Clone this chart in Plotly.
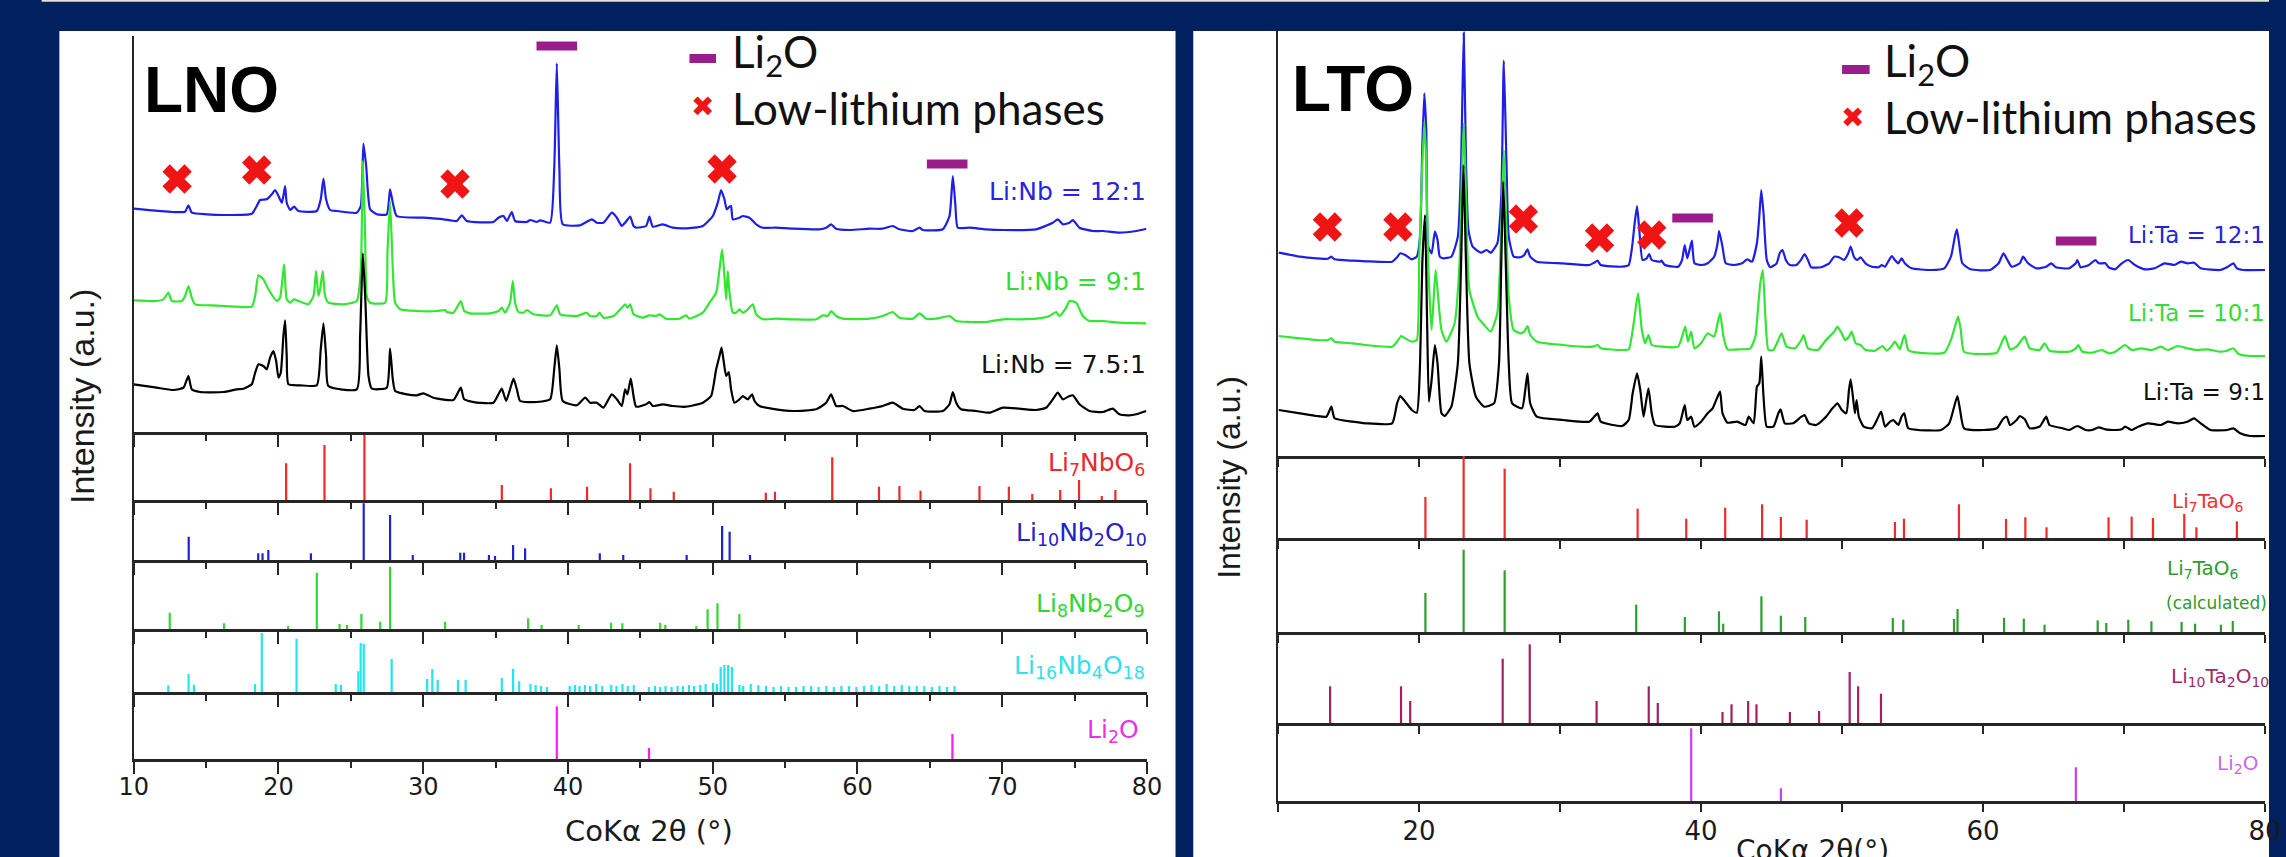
import plotly.graph_objects as go

W, H = 2286, 857

# ---------------- LEFT (LNO) measured patterns: (2theta, intensity a.u.) ----------------
lnb_12_1 = [(10.0, 27.3), (12.7, 24.0), (13.55, 24.3), (13.78, 30.7), (14.01, 23.3), (15.05, 21.7), (16.2, 21.0),
            (18.16, 22.3), (18.5, 30.0), (18.73, 36.0), (19.19, 36.7), (19.54, 41.7), (19.77, 46.0), (20.0, 40.0),
            (20.23, 33.3), (20.34, 40.0), (20.46, 50.0), (20.57, 33.3), (20.81, 26.0), (21.08, 29.3), (21.38, 25.0),
            (22.65, 25.0), (22.92, 36.7), (23.11, 57.3), (23.29, 36.7), (23.57, 26.0), (24.03, 25.0), (25.41, 23.3),
            (25.69, 30.0), (25.87, 92.3), (26.06, 70.0), (26.33, 26.7), (26.79, 21.7), (27.48, 21.7), (27.71, 46.7),
            (27.9, 33.3), (28.17, 20.0), (30.02, 18.3), (31.4, 16.7), (32.32, 15.0), (32.67, 20.7), (33.01, 15.0),
            (34.85, 14.0), (35.2, 18.3), (35.55, 20.0), (35.78, 15.0), (36.12, 24.0), (36.35, 15.0), (37.16, 14.0),
            (37.39, 16.0), (37.85, 14.0), (38.08, 15.7), (38.77, 13.3), (39.05, 66.7), (39.23, 172.7), (39.41, 66.7),
            (39.64, 11.7), (40.84, 10.7), (41.65, 16.7), (41.99, 13.3), (42.45, 13.3), (43.03, 23.3), (43.38, 18.3),
            (43.72, 10.0), (43.95, 13.3), (44.3, 19.3), (44.53, 10.0), (44.71, 8.3), (45.4, 10.0), (45.63, 19.3),
            (45.86, 9.3), (46.55, 11.7), (47.24, 8.3), (48.16, 7.7), (49.32, 10.0), (50.01, 20.0), (50.35, 33.3),
            (50.58, 46.0), (50.81, 36.7), (50.97, 26.7), (51.16, 29.3), (51.27, 30.0), (51.39, 16.7), (51.85, 18.3),
            (52.08, 20.0), (52.54, 18.3), (53.0, 11.7), (53.46, 8.3), (54.38, 8.3), (55.53, 7.3), (57.38, 6.7),
            (57.84, 8.3), (58.18, 11.7), (58.53, 7.3), (59.45, 6.0), (60.83, 7.3), (61.75, 7.3), (62.44, 10.0),
            (62.9, 6.7), (63.83, 5.0), (64.29, 8.3), (64.52, 6.0), (65.9, 6.7), (66.36, 20.0), (66.59, 60.0),
            (66.77, 30.0), (66.93, 8.3), (67.74, 8.3), (68.89, 6.7), (70.04, 6.0), (72.35, 6.7), (73.5, 13.3),
            (73.84, 16.7), (74.19, 11.7), (74.65, 13.3), (74.88, 16.0), (75.34, 8.3), (76.26, 5.0), (76.95, 5.0),
            (78.1, 3.3), (79.26, 5.0), (79.95, 7.3)]

lnb_9_1 = [(10.0, 25.7), (11.59, 25.0), (12.05, 26.7), (12.4, 33.3), (12.63, 25.0), (13.32, 25.0), (13.55, 30.0),
           (13.78, 40.0), (14.01, 28.3), (14.24, 21.7), (15.28, 20.7), (16.2, 20.0), (17.12, 19.3), (18.16, 19.3),
           (18.39, 30.0), (18.62, 50.7), (18.96, 46.7), (19.31, 36.7), (19.88, 25.0), (20.11, 28.3), (20.39, 61.7),
           (20.57, 26.7), (20.81, 23.3), (21.08, 26.7), (21.38, 25.0), (22.07, 21.7), (22.42, 30.0), (22.6, 55.0),
           (22.76, 30.0), (22.88, 36.7), (23.06, 55.0), (23.22, 30.0), (23.45, 23.3), (24.49, 21.7), (25.41, 25.0),
           (25.69, 56.7), (25.83, 165.0), (25.99, 90.0), (26.1, 30.0), (26.33, 23.3), (27.37, 23.3), (27.53, 73.3),
           (27.71, 125.0), (27.9, 56.7), (28.06, 23.3), (28.41, 16.7), (29.56, 15.0), (30.94, 15.0), (31.51, 16.0),
           (31.63, 14.0), (32.09, 13.3), (32.32, 18.3), (32.6, 25.0), (32.83, 15.0), (33.24, 12.7), (34.62, 12.7),
           (35.2, 15.0), (35.43, 18.3), (35.66, 13.3), (36.0, 23.3), (36.19, 45.0), (36.35, 23.3), (36.58, 14.0),
           (36.93, 13.3), (37.16, 16.0), (37.62, 11.7), (38.77, 10.7), (39.23, 20.7), (39.46, 11.7), (40.61, 10.0),
           (41.3, 13.3), (41.53, 10.0), (41.99, 10.0), (42.18, 13.3), (42.45, 8.3), (43.15, 10.0), (43.72, 18.3),
           (43.95, 21.7), (44.11, 18.3), (44.3, 21.7), (44.53, 11.7), (45.17, 8.3), (45.63, 10.7), (46.09, 10.0),
           (46.32, 11.7), (46.78, 7.3), (47.7, 7.3), (48.16, 10.7), (48.39, 7.3), (49.32, 13.3), (49.78, 23.3),
           (50.24, 33.3), (50.47, 56.7), (50.65, 76.7), (50.81, 50.0), (50.93, 26.7), (51.04, 55.0), (51.16, 33.3),
           (51.39, 13.3), (51.62, 13.3), (51.85, 16.7), (52.08, 13.3), (52.43, 16.7), (52.77, 21.7), (53.0, 11.7),
           (53.46, 6.7), (54.38, 7.3), (55.53, 6.7), (57.15, 6.7), (57.61, 10.7), (57.95, 10.0), (58.18, 15.0),
           (58.53, 10.0), (58.99, 7.3), (60.83, 7.3), (61.75, 10.0), (62.44, 14.0), (62.9, 8.3), (63.83, 7.3),
           (64.29, 12.7), (64.75, 7.3), (65.44, 7.3), (66.36, 10.0), (66.82, 5.0), (67.74, 4.0), (68.89, 4.0),
           (70.04, 6.7), (71.19, 6.7), (72.35, 7.3), (73.27, 10.0), (73.73, 14.0), (73.96, 10.0), (74.42, 18.3),
           (74.65, 25.0), (75.11, 23.3), (75.57, 10.0), (76.03, 5.0), (76.95, 5.0), (78.1, 3.3), (79.95, 2.7)]

lnb_7_5_1 = [(10.0, 31.7), (11.59, 28.3), (12.74, 26.0), (13.44, 28.3), (13.78, 40.0), (14.01, 26.7), (14.59, 24.0),
             (16.2, 24.0), (17.12, 26.7), (17.58, 27.3), (18.16, 31.7), (18.39, 43.3), (18.62, 51.7), (18.96, 50.0),
             (19.19, 46.7), (19.42, 58.3), (19.65, 65.0), (19.84, 55.0), (20.0, 38.3), (20.16, 43.3), (20.34, 80.0),
             (20.46, 95.7), (20.57, 60.0), (20.69, 31.7), (21.5, 30.7), (22.65, 30.7), (22.92, 66.7), (23.11, 92.7),
             (23.29, 60.0), (23.45, 30.0), (25.41, 26.7), (25.64, 80.0), (25.83, 162.7), (26.01, 113.3), (26.22, 40.0),
             (26.45, 27.3), (27.48, 28.3), (27.71, 67.3), (27.9, 36.7), (28.06, 25.0), (28.87, 21.7), (29.56, 20.7),
             (30.02, 22.7), (30.71, 18.3), (32.09, 16.0), (32.6, 28.3), (32.83, 16.7), (33.7, 13.3), (34.85, 13.3),
             (35.2, 21.7), (35.43, 27.3), (35.73, 15.0), (36.0, 26.7), (36.24, 37.3), (36.47, 26.7), (36.7, 15.0),
             (37.85, 14.0), (38.77, 16.7), (39.05, 46.7), (39.23, 70.7), (39.41, 46.7), (39.64, 15.0), (40.61, 10.7),
             (41.19, 18.3), (41.53, 13.3), (41.99, 13.3), (42.45, 8.3), (43.03, 21.7), (43.38, 16.7), (43.72, 10.0),
             (43.95, 26.7), (44.11, 21.7), (44.34, 37.3), (44.53, 20.0), (44.71, 9.3), (45.4, 11.7), (45.63, 14.0),
             (45.86, 10.0), (46.55, 11.7), (47.24, 10.0), (48.16, 9.3), (49.32, 13.3), (49.89, 20.0), (50.24, 46.7),
             (50.47, 60.0), (50.61, 68.3), (50.74, 56.7), (50.93, 40.0), (51.11, 44.0), (51.27, 26.7), (51.5, 13.3),
             (51.85, 16.7), (52.08, 20.0), (52.43, 16.7), (52.72, 21.7), (52.89, 15.0), (53.23, 10.0), (54.38, 6.7),
             (55.53, 5.0), (57.15, 6.7), (57.84, 13.3), (58.18, 21.7), (58.53, 10.0), (58.99, 10.0), (59.68, 5.0),
             (60.83, 7.3), (61.75, 10.0), (62.44, 13.3), (63.13, 7.3), (63.94, 6.0), (64.29, 10.0), (64.63, 5.0),
             (65.9, 5.0), (66.36, 11.7), (66.59, 24.0), (66.82, 13.3), (67.16, 6.7), (68.2, 5.0), (69.12, 3.3),
             (70.04, 8.3), (71.19, 7.3), (72.35, 6.0), (73.04, 8.3), (73.5, 16.7), (73.84, 23.3), (74.19, 16.7),
             (74.65, 20.0), (74.88, 20.7), (75.34, 11.7), (76.03, 5.0), (76.95, 4.0), (77.64, 7.3), (78.1, 1.7),
             (78.79, 0.7), (79.26, 1.7), (79.95, 5.0)]

# ---------------- LEFT reference patterns: (2theta, relative intensity) ----------------
ref_li7nbo6 = [(20.53, 36.7), (23.18, 55), (25.94, 65), (35.43, 15), (38.82, 11.7), (41.32, 13.3), (44.29, 36.7),
               (45.7, 11.7), (47.31, 8.3), (53.67, 7.3), (54.3, 8.3), (58.26, 42.7), (61.49, 13.3), (62.9, 14),
               (64.36, 9.3), (68.43, 14), (70.46, 13.3), (72.08, 6), (74.01, 10), (75.31, 20), (76.88, 4), (77.82, 10)]
ref_li10nb2o10 = [(13.8, 23.3), (18.6, 6.7), (18.9, 6.7), (19.3, 10), (22.24, 6.7), (25.89, 56.7), (27.71, 45),
                  (29.28, 5), (32.56, 7.3), (32.82, 7.3), (34.54, 5), (34.96, 4), (36.21, 15), (37.04, 11.7),
                  (42.2, 6.7), (43.82, 5), (48.2, 5), (50.65, 34), (51.17, 28.3), (52.58, 5)]
ref_li8nb2o9 = [(12.49, 16.3), (16.24, 5.7), (20.67, 3), (22.65, 56.3), (24.22, 5), (24.74, 4), (25.73, 15),
                (27.03, 7.3), (27.71, 62.3), (31.51, 7.3), (37.25, 10.7), (38.18, 4), (40.74, 4), (42.98, 6.3),
                (43.76, 5.7), (46.37, 6.3), (46.73, 4), (48.87, 3), (49.65, 19.7), (50.33, 25.7), (51.84, 15)]
ref_li16nb4o18 = [(12.39, 6.7), (13.79, 18), (14.16, 7.3), (18.38, 8), (18.85, 59), (21.25, 53.3), (23.96, 8),
                  (24.32, 7.3), (25.52, 20.7), (25.68, 49), (25.89, 48.3), (27.82, 33), (30.27, 13), (30.63, 23),
                  (31.0, 12.3), (32.4, 12.3), (32.93, 12.3), (35.43, 14), (36.21, 23), (36.63, 10.7), (37.41, 8),
                  (37.77, 7), (38.14, 6), (38.55, 5), (40.12, 6), (40.49, 7), (40.8, 6), (41.17, 7), (41.53, 6),
                  (41.95, 8), (42.37, 6), (42.99, 7), (43.35, 6), (43.77, 8), (44.13, 6), (44.55, 7), (45.59, 5),
                  (46.01, 6), (46.37, 5), (46.74, 6), (47.16, 5), (47.57, 6), (47.94, 6), (48.36, 7), (48.72, 6),
                  (49.14, 7), (49.51, 8), (50.03, 9), (50.29, 8), (50.55, 25), (50.81, 27), (51.07, 27), (51.33, 25),
                  (51.85, 7), (52.11, 6), (52.63, 8), (53.15, 7), (53.68, 6), (54.2, 5), (54.72, 6), (55.24, 5),
                  (55.76, 5), (56.28, 6), (56.8, 6), (57.32, 5), (57.85, 6), (58.37, 5), (58.89, 6), (59.41, 6),
                  (59.93, 5), (60.45, 6), (60.97, 7), (61.5, 6), (62.02, 8), (62.54, 6), (63.06, 7), (63.58, 6),
                  (64.1, 6), (64.62, 6), (65.14, 5), (65.67, 6), (66.19, 5), (66.71, 6)]
ref_li2o_l = [(39.23, 52.7), (45.6, 11), (66.56, 25)]

# phase markers (2theta, marker height) on the LNO patterns
lnb_lowli_pos = [13.0, 18.5, 32.2, 50.65]
lnb_lowli_hgt = [253, 262, 248, 263]
lnb_li2o_pos = [39.23, 66.2]
lnb_li2o_hgt = [386, 268]

# ---------------- RIGHT (LTO) measured patterns ----------------
lta_12_1 = [(10.05, 17.3), (11.56, 13.3), (12.73, 11.7), (13.54, 11.3), (13.78, 13.3), (14.01, 10.7), (15.29, 9.3),
            (16.22, 8.7), (18.09, 8.3), (18.44, 12.7), (18.67, 16.7), (19.02, 15.0), (19.49, 10.7), (19.84, 13.3),
            (20.07, 33.3), (20.23, 123.3), (20.37, 176.7), (20.51, 140.0), (20.65, 23.3), (20.89, 16.7), (21.12, 38.3),
            (21.31, 30.0), (21.47, 13.3), (21.7, 11.7), (22.29, 13.3), (22.75, 33.3), (22.98, 106.7), (23.17, 237.3),
            (23.33, 106.7), (23.5, 40.0), (23.8, 23.3), (24.38, 17.3), (24.8, 20.0), (25.08, 17.3), (25.55, 26.7),
            (25.83, 73.3), (26.01, 209.3), (26.2, 106.7), (26.36, 33.3), (26.71, 13.3), (27.18, 12.7), (27.46, 15.0),
            (27.69, 20.7), (27.88, 13.3), (28.35, 8.3), (30.21, 6.7), (32.08, 5.0), (32.42, 7.3), (32.66, 9.3),
            (32.89, 5.0), (34.41, 3.3), (34.87, 5.0), (35.11, 23.3), (35.29, 46.7), (35.46, 64.0), (35.62, 40.0),
            (35.85, 10.0), (36.15, 11.7), (36.32, 16.0), (36.5, 10.0), (37.09, 8.3), (37.2, 9.3), (37.44, 5.0),
            (38.37, 3.3), (38.65, 10.0), (38.84, 25.0), (39.02, 11.7), (39.18, 20.0), (39.35, 29.3), (39.53, 6.7),
            (40.0, 5.0), (40.47, 6.7), (40.93, 13.3), (41.17, 26.7), (41.28, 39.0), (41.52, 23.3), (41.75, 6.7),
            (42.33, 5.0), (42.91, 6.7), (43.26, 10.7), (43.61, 8.3), (43.96, 26.7), (44.13, 53.3), (44.27, 80.0),
            (44.43, 56.7), (44.66, 10.0), (44.9, 2.7), (45.36, 6.7), (45.59, 17.3), (45.78, 20.0), (46.01, 10.0),
            (46.29, 5.0), (46.76, 5.0), (47.11, 10.7), (47.34, 16.0), (47.58, 10.0), (47.81, 2.7), (48.51, 2.7),
            (49.09, 6.7), (49.44, 13.3), (49.79, 12.7), (50.14, 10.0), (50.44, 16.7), (50.61, 23.3), (50.84, 13.3),
            (51.07, 10.0), (51.31, 12.7), (51.66, 6.7), (52.12, 3.3), (52.59, 2.7), (52.82, 5.0), (53.05, 3.3),
            (53.52, 14.0), (53.75, 10.0), (53.99, 6.7), (54.22, 11.7), (54.45, 6.7), (54.92, 1.7), (56.32, 0.0),
            (57.25, 1.7), (57.72, 13.3), (58.0, 33.3), (58.14, 40.7), (58.3, 26.7), (58.53, 6.7), (59.11, 0.7),
            (60.51, 0.0), (61.1, 6.7), (61.45, 16.7), (61.73, 10.0), (62.03, 3.3), (62.61, 6.7), (62.84, 13.3),
            (63.19, 6.7), (63.78, 1.7), (64.48, 3.3), (64.83, 6.7), (65.17, 2.7), (66.11, 1.7), (66.57, 6.7),
            (66.69, 10.0), (66.92, 2.7), (67.51, 5.0), (67.97, 10.0), (68.21, 6.7), (68.67, 6.7), (68.91, 2.7),
            (69.37, 0.7), (69.84, 6.7), (70.3, 10.0), (70.77, 5.0), (71.47, 0.7), (72.17, 1.7), (72.87, 6.7),
            (73.57, 5.0), (74.03, 8.3), (74.5, 6.7), (74.97, 7.3), (75.43, 1.7), (76.83, 0.0), (77.3, 2.7),
            (77.76, 6.7), (78.0, 1.7), (78.46, 0.0), (80.0, 0.0)]

lta_10_1 = [(10.05, 20.0), (11.56, 17.7), (12.73, 16.0), (13.54, 16.0), (13.78, 17.7), (14.01, 14.3), (15.29, 12.7),
            (16.22, 11.0), (18.09, 9.3), (18.44, 14.3), (18.74, 20.0), (19.02, 17.7), (19.49, 14.3), (19.84, 16.0),
            (20.0, 92.7), (20.19, 176.0), (20.37, 234.3), (20.51, 192.7), (20.65, 92.7), (20.89, 26.0), (21.17, 86.0),
            (21.35, 59.3), (21.59, 26.0), (21.94, 14.3), (22.52, 32.7), (22.87, 92.7), (23.03, 176.0), (23.17, 232.7),
            (23.33, 159.3), (23.57, 66.0), (24.15, 39.3), (24.62, 31.0), (25.08, 24.3), (25.55, 42.7), (25.83, 126.0),
            (26.01, 206.0), (26.2, 126.0), (26.36, 59.3), (26.71, 26.0), (27.18, 22.7), (27.46, 24.3), (27.69, 30.0),
            (27.88, 21.0), (28.35, 14.3), (30.21, 11.0), (31.61, 9.3), (32.31, 9.3), (32.66, 11.0), (32.89, 7.7),
            (34.41, 6.0), (34.87, 6.7), (35.22, 32.7), (35.53, 62.7), (35.8, 26.0), (36.04, 12.7), (36.27, 21.0),
            (36.5, 11.0), (37.2, 9.3), (38.37, 9.3), (38.65, 19.3), (38.88, 29.3), (39.07, 14.3), (39.3, 24.3),
            (39.53, 7.7), (40.0, 12.7), (40.47, 22.7), (40.93, 19.3), (41.17, 32.7), (41.35, 42.7), (41.59, 19.3),
            (41.87, 6.7), (42.8, 6.7), (43.5, 7.7), (43.85, 19.3), (44.03, 46.0), (44.2, 72.7), (44.38, 86.0),
            (44.55, 42.7), (44.78, 6.0), (45.13, 6.0), (45.48, 16.0), (45.71, 22.7), (46.06, 9.3), (46.64, 7.7),
            (47.11, 16.0), (47.27, 21.0), (47.58, 7.7), (48.28, 6.0), (48.86, 16.0), (49.44, 24.3), (49.67, 29.3),
            (49.98, 22.7), (50.21, 16.0), (50.49, 19.3), (50.68, 24.3), (50.96, 12.7), (51.31, 11.0), (51.66, 6.0),
            (52.35, 5.3), (52.87, 10.0), (53.17, 5.3), (53.52, 10.0), (53.75, 14.3), (54.1, 6.7), (54.34, 17.7),
            (54.45, 21.0), (54.69, 6.0), (55.38, 3.3), (57.25, 3.3), (57.72, 16.0), (58.07, 32.7), (58.23, 39.3),
            (58.42, 26.0), (58.65, 4.3), (60.05, 2.0), (60.98, 3.3), (61.4, 16.0), (61.56, 20.0), (61.91, 6.7),
            (62.38, 9.3), (62.73, 16.0), (62.96, 19.3), (63.31, 7.7), (64.01, 6.0), (64.36, 12.7), (64.71, 5.3),
            (66.11, 4.3), (66.57, 7.7), (66.76, 11.0), (67.04, 4.3), (67.74, 3.3), (68.44, 6.0), (68.91, 2.7),
            (69.37, 4.3), (70.07, 11.0), (70.54, 6.0), (71.24, 7.7), (71.93, 6.0), (72.63, 9.3), (73.1, 6.0),
            (73.8, 10.0), (74.5, 7.7), (75.2, 6.0), (75.9, 6.7), (76.83, 4.3), (77.3, 5.3), (77.76, 7.7),
            (78.11, 2.0), (78.93, 0.0), (80.0, 0.0)]

lta_9_1 = [(10.05, 30.0), (11.56, 26.7), (12.73, 24.0), (13.43, 23.3), (13.78, 33.3), (14.01, 21.7), (15.29, 18.3),
           (16.22, 16.7), (18.09, 16.7), (18.44, 36.7), (18.67, 44.0), (19.02, 38.3), (19.49, 30.0), (19.84, 27.3),
           (20.07, 76.7), (20.23, 176.7), (20.42, 225.0), (20.58, 110.0), (20.7, 38.3), (20.89, 60.0), (21.12, 95.0),
           (21.31, 76.7), (21.59, 26.7), (21.82, 24.0), (22.29, 33.3), (22.75, 76.7), (22.98, 176.7), (23.15, 275.0),
           (23.33, 176.7), (23.57, 76.7), (24.03, 43.3), (24.62, 33.3), (25.32, 36.7), (25.67, 76.7), (25.83, 176.7),
           (25.97, 258.3), (26.15, 176.7), (26.36, 76.7), (26.6, 36.7), (27.3, 31.7), (27.53, 50.0), (27.69, 66.7),
           (27.88, 36.7), (28.35, 23.3), (30.21, 20.0), (32.08, 18.3), (32.42, 23.3), (32.66, 26.7), (32.89, 18.3),
           (34.41, 14.0), (34.87, 20.0), (35.15, 46.7), (35.46, 66.7), (35.69, 50.0), (35.92, 23.3), (36.08, 36.7),
           (36.27, 51.7), (36.5, 26.7), (36.74, 15.0), (38.14, 13.3), (38.49, 16.7), (38.84, 35.0), (39.02, 20.0),
           (39.3, 23.3), (39.53, 13.3), (40.0, 18.3), (40.47, 26.7), (40.82, 31.7), (41.17, 43.3), (41.35, 48.3),
           (41.52, 26.7), (41.87, 17.3), (42.56, 18.3), (43.15, 15.0), (43.38, 23.3), (43.73, 16.7), (43.96, 53.3),
           (44.13, 56.7), (44.27, 83.3), (44.43, 43.3), (44.66, 13.3), (45.13, 13.3), (45.48, 26.7), (45.64, 30.7),
           (45.94, 16.7), (46.53, 16.7), (47.11, 23.3), (47.34, 25.0), (47.65, 16.7), (48.16, 15.0), (48.86, 23.3),
           (49.32, 31.7), (49.67, 36.7), (49.98, 30.0), (50.3, 26.7), (50.49, 50.0), (50.61, 60.7), (50.77, 43.3),
           (50.91, 26.7), (51.03, 40.0), (51.19, 23.3), (51.54, 13.3), (52.12, 11.7), (52.47, 20.0), (52.77, 28.3),
           (53.05, 13.3), (53.4, 18.3), (53.64, 20.0), (53.99, 15.0), (54.22, 23.3), (54.41, 26.7), (54.69, 11.7),
           (55.38, 10.0), (57.02, 10.0), (57.6, 16.7), (57.95, 33.3), (58.18, 44.0), (58.37, 30.0), (58.65, 11.7),
           (60.05, 10.0), (60.98, 11.7), (61.4, 20.7), (61.68, 23.3), (61.91, 15.0), (62.38, 20.0), (62.61, 24.0),
           (62.96, 20.7), (63.31, 11.7), (64.01, 13.3), (64.48, 23.3), (64.71, 15.0), (65.64, 11.7), (66.11, 10.0),
           (66.69, 14.0), (67.27, 10.0), (67.74, 10.0), (68.21, 12.7), (68.67, 10.7), (69.37, 10.0), (69.84, 10.7),
           (70.07, 13.3), (70.54, 10.0), (71.0, 13.3), (71.7, 16.7), (72.63, 15.0), (73.1, 18.3), (73.8, 16.7),
           (74.5, 18.3), (74.97, 21.7), (75.43, 16.7), (76.13, 10.0), (77.3, 10.0), (77.76, 11.7), (78.23, 6.7),
           (78.93, 4.0), (80.0, 4.0)]

# ---------------- RIGHT reference patterns ----------------
ref_li7tao6 = [(20.45, 41), (23.16, 82), (26.07, 69.3), (35.5, 29.3), (38.95, 19.3), (41.71, 30.3), (44.33, 33.7),
               (45.66, 21), (47.49, 18.3), (53.75, 16), (54.39, 19.3), (58.29, 33.7), (61.63, 19), (63.0, 20.7),
               (64.5, 10.7), (68.9, 20.7), (70.54, 21.3), (72.05, 20), (74.27, 24), (75.13, 10.7), (78.0, 16.7)]
ref_li7tao6_calc = [(20.45, 39), (23.16, 82.3), (26.07, 61.7), (35.4, 27.3), (38.85, 15), (41.27, 20.7), (41.57, 8.3),
                    (44.28, 35.7), (45.66, 16.3), (47.39, 15), (53.6, 14), (54.34, 12.3), (57.94, 13), (58.19, 23),
                    (61.49, 14.3), (62.89, 13.3), (64.36, 7.3), (68.13, 11.7), (68.74, 9), (70.3, 12.3), (71.94, 10.7),
                    (74.08, 10), (75.04, 8.3), (76.87, 7.3), (77.71, 11)]
ref_li10ta2o10 = [(13.69, 36.7), (18.72, 36.7), (19.37, 22), (25.93, 64.3), (27.85, 78.7), (32.59, 22), (36.29, 36.7),
                  (36.93, 20), (41.52, 11), (42.16, 18.7), (43.34, 22), (43.93, 18.7), (46.3, 11), (48.37, 12),
                  (50.54, 51), (51.14, 36.7), (52.76, 29.3)]
ref_li2o_r = [(39.3, 72.7), (45.66, 12.7), (66.58, 33.7)]

lta_lowli_pos = [13.5, 18.5, 27.4, 32.8, 36.5, 50.5]
lta_lowli_hgt = [229, 229, 237, 218, 221, 233]
lta_li2o_pos = [39.4, 66.6]
lta_li2o_hgt = [238, 215]

left_ticks = [10, 20, 30, 40, 50, 60, 70, 80]
right_tickvals = [10, 20, 30, 40, 50, 60, 70, 80]
right_ticktext = ['', '20', '', '40', '', '60', '', '80']

# ---------------- styling / layout constants ----------------
NAVY = '#012060'
AX = '#262626'
BLUE, GREEN, BLACK = '#1e1ee6', '#33e633', '#000000'
REDX, PURPLE = '#f01414', '#9b1d8c'

fig = go.Figure()

def dom(top, bot):
    return [1 - bot / H, 1 - top / H]

left_xdom = [120.4 / W, 1148 / W]
right_xdom = [1281 / W, 2282 / W]
left_panels = [(36, 432), (432, 500), (500, 560), (560, 629), (629, 692), (692, 759)]
right_panels = [(31, 456), (456, 538), (538, 632), (632, 723), (723, 801)]

layout_axes = {}
for i, (t, b) in enumerate(left_panels, start=1):
    last = (i == len(left_panels))
    layout_axes[f'xaxis{i}'] = dict(
        domain=left_xdom, range=[10, 80], anchor=f'y{i}', showline=True, linecolor=AX, linewidth=2.5,
        ticks='outside', ticklen=12, tickwidth=2, tickcolor=AX, tickmode='array', tickvals=left_ticks,
        minor=dict(ticks='outside', ticklen=6, tickwidth=2, tickcolor=AX, dtick=5, tick0=10),
        showgrid=False, zeroline=False, showticklabels=last, ticklabelstandoff=-8,
        tickfont=dict(family='DejaVu Sans', size=24, color='#1a1a1a'))
    layout_axes[f'yaxis{i}'] = dict(
        domain=dom(t, b), range=[0, b - t], anchor=f'x{i}', showline=True, linecolor=AX, linewidth=2,
        ticks='', showticklabels=False, showgrid=False, zeroline=False)

for j, (t, b) in enumerate(right_panels, start=1):
    i = 6 + j
    last = (j == len(right_panels))
    layout_axes[f'xaxis{i}'] = dict(
        domain=right_xdom, range=[10, 80], anchor=f'y{i}', showline=True, linecolor=AX, linewidth=2.5,
        ticks='outside', ticklen=8, tickwidth=2, tickcolor=AX, tickmode='array',
        tickvals=right_tickvals, ticktext=right_ticktext,
        showgrid=False, zeroline=False, showticklabels=last, ticklabelstandoff=-3,
        tickfont=dict(family='DejaVu Sans', size=26, color='#1a1a1a'))
    layout_axes[f'yaxis{i}'] = dict(
        domain=dom(t, b), range=[0, b - t], anchor=f'x{i}', showline=True, linecolor=AX, linewidth=2,
        ticks='', showticklabels=False, showgrid=False, zeroline=False)

def curve(pairs, offset, color, ax):
    fig.add_trace(go.Scatter(x=[p[0] for p in pairs], y=[p[1] + offset for p in pairs], mode='lines',
                             line=dict(color=color, width=2.2, shape='spline', smoothing=0.5),
                             xaxis=f'x{ax}', yaxis=f'y{ax}', showlegend=False, hoverinfo='skip'))

def sticks(pairs, color, ax):
    xs, ys = [], []
    for p, h in pairs:
        xs += [p, p, None]
        ys += [0, h, None]
    fig.add_trace(go.Scatter(x=xs, y=ys, mode='lines', line=dict(color=color, width=2.2),
                             xaxis=f'x{ax}', yaxis=f'y{ax}', showlegend=False, hoverinfo='skip'))

def markers(pos, hgt, ax, kind):
    if kind == 'x':
        m = dict(symbol='x', size=26, color=REDX, line=dict(width=0))
    else:
        m = dict(symbol='line-ew', size=29, line=dict(width=9, color=PURPLE))
    fig.add_trace(go.Scatter(x=pos, y=hgt, mode='markers', marker=m, xaxis=f'x{ax}', yaxis=f'y{ax}',
                             cliponaxis=False, showlegend=False, hoverinfo='skip'))

# left curves (offsets stack the patterns)
curve(lnb_12_1, 196, BLUE, 1)
curve(lnb_9_1, 106, GREEN, 1)
curve(lnb_7_5_1, 16, BLACK, 1)
markers(lnb_lowli_pos, lnb_lowli_hgt, 1, 'x')
markers(lnb_li2o_pos, lnb_li2o_hgt, 1, 'bar')
sticks(ref_li7nbo6, '#f02828', 2)
sticks(ref_li10nb2o10, '#2020d8', 3)
sticks(ref_li8nb2o9, '#33d633', 4)
sticks(ref_li16nb4o18, '#22e6ee', 5)
sticks(ref_li2o_l, '#ff1aff', 6)

# right curves
curve(lta_12_1, 186, BLUE, 7)
curve(lta_10_1, 100, GREEN, 7)
curve(lta_9_1, 16, BLACK, 7)
markers(lta_lowli_pos, lta_lowli_hgt, 7, 'x')
markers(lta_li2o_pos, lta_li2o_hgt, 7, 'bar')
sticks(ref_li7tao6, '#ee2a2a', 8)
sticks(ref_li7tao6_calc, '#2e9e2e', 9)
sticks(ref_li10ta2o10, '#a3205f', 10)
sticks(ref_li2o_r, '#cc3cf5', 11)

anns = []
def ann(text, px, py, size, color, xanchor='center', yanchor='middle', family='DejaVu Sans', angle=0,
        bold=False, align='center'):
    if bold:
        text = f'<b>{text}</b>'
    anns.append(dict(text=text, x=px / W, y=1 - py / H, xref='paper', yref='paper', showarrow=False,
                     xanchor=xanchor, yanchor=yanchor, textangle=angle, align=align,
                     font=dict(family=family, size=size, color=color)))

# panel titles
ann('LNO', 199, 90, 64, '#000', family='Liberation Sans', bold=True)
ann('LTO', 1357, 89, 64, '#000', family='Liberation Sans', bold=True)

# legends (two lines in one text block)
LEG = 'Li<sub>2</sub>O<br>Low-lithium phases'
ann(LEG, 725, 79, 44, '#111', xanchor='left', family='Lato', align='left')
ann('\u2716', 697, 107, 28, REDX)
ann(LEG, 1894, 89, 44, '#111', xanchor='left', family='Lato', align='left')
ann('\u2716', 1864, 117, 28, REDX)

# series labels
ann('Li:Nb = 12:1', 1149, 191, 25, '#2525dd', xanchor='right')
ann('Li:Nb = 9:1', 1149, 281, 25, '#33dd33', xanchor='right')
ann('Li:Nb = 7.5:1', 1149, 364, 25, '#111', xanchor='right')
ann('Li:Ta = 12:1', 2284, 235, 23, '#2525dd', xanchor='right')
ann('Li:Ta = 10:1', 2284, 313, 23, '#33dd33', xanchor='right')
ann('Li:Ta = 9:1', 2284, 392, 23, '#111', xanchor='right')

# reference labels
ann('Li<sub>7</sub>NbO<sub>6</sub>', 1148, 464, 25, '#e82a2a', xanchor='right')
ann('Li<sub>10</sub>Nb<sub>2</sub>O<sub>10</sub>', 1150, 534, 25, '#2323c8', xanchor='right')
ann('Li<sub>8</sub>Nb<sub>2</sub>O<sub>9</sub>', 1148, 605, 25, '#33d633', xanchor='right')
ann('Li<sub>16</sub>Nb<sub>4</sub>O<sub>18</sub>', 1148, 667, 25, '#33e0e6', xanchor='right')
ann('Li<sub>2</sub>O', 1142, 731, 25, '#e633e6', xanchor='right')
ann('Li<sub>7</sub>TaO<sub>6</sub>', 2263, 502, 20, '#ee3030', xanchor='right')
ann('Li<sub>7</sub>TaO<sub>6</sub>', 2258, 569, 20, '#2e9a2e', xanchor='right')
ann('(calculated)', 2286, 603, 17, '#2e9a2e', xanchor='right')
ann('Li<sub>10</sub>Ta<sub>2</sub>O<sub>10</sub>', 2288, 677, 20, '#9c2a6c', xanchor='right')
ann('Li<sub>2</sub>O', 2277, 764, 20, '#cc66ee', xanchor='right')

# axis titles
ann('CoK\u03b1 2\u03b8 (\u00b0)', 643, 831, 29, '#1a1a1a')
ann('CoK\u03b1 2\u03b8(\u00b0)', 1823, 850, 28, '#1a1a1a')
ann('Intensity (a.u.)', 68, 397, 34, '#1a1a1a', family='Liberation Sans', angle=-90)
ann('Intensity (a.u.)', 1231, 477, 32, '#1a1a1a', family='Liberation Sans', angle=-90)

shapes = [
    dict(type='rect', xref='paper', yref='paper', x0=45 / W, x1=1177 / W, y0=0, y1=1 - 31 / H,
         fillcolor='white', line=dict(width=0), layer='below'),
    dict(type='rect', xref='paper', yref='paper', x0=1195 / W, x1=1, y0=0, y1=1 - 31 / H,
         fillcolor='white', line=dict(width=0), layer='below'),
    dict(type='line', xref='paper', yref='paper', x0=27 / W, x1=1, y0=1 - 0.8 / H, y1=1 - 0.8 / H,
         line=dict(color='#e6e2d3', width=2), layer='below'),
    # legend bars (Li2O symbol)
    dict(type='rect', xref='paper', yref='paper', x0=684 / W, x1=711 / W, y0=1 - 63 / H, y1=1 - 54 / H,
         fillcolor=PURPLE, line=dict(width=0)),
    dict(type='rect', xref='paper', yref='paper', x0=1853 / W, x1=1881 / W, y0=1 - 74 / H, y1=1 - 65 / H,
         fillcolor=PURPLE, line=dict(width=0)),
]

fig.update_layout(
    width=W, height=H, margin=dict(l=0, r=0, t=0, b=0),
    paper_bgcolor=NAVY, plot_bgcolor='rgba(0,0,0,0)',
    showlegend=False, annotations=anns, shapes=shapes, **layout_axes)

fig.write_html('out.html')
